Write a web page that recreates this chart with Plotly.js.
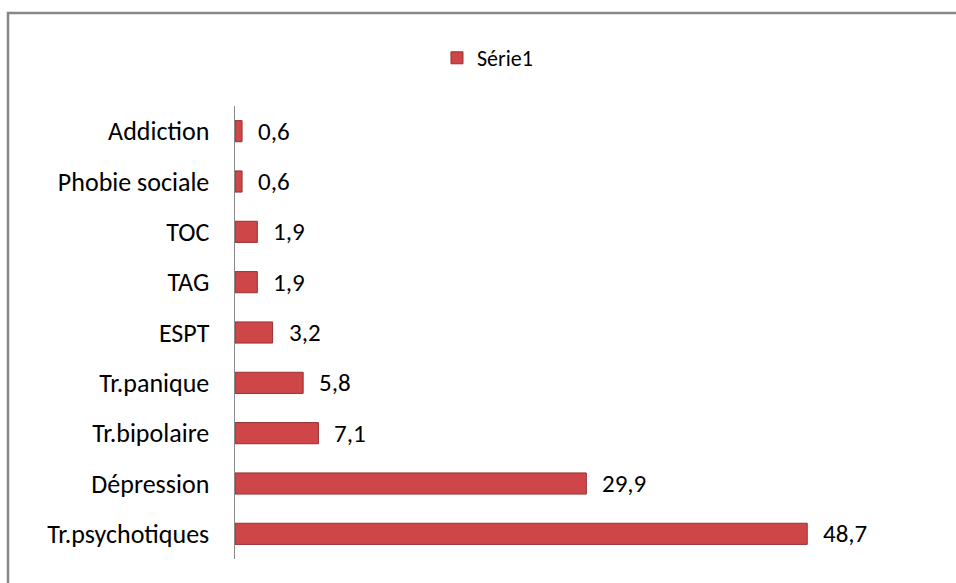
<!DOCTYPE html>
<html>
<head>
<meta charset="utf-8">
<script src="https://cdn.plot.ly/plotly-3.0.1.min.js"></script>
<style>
html,body{margin:0;padding:0;background:#fff;}
#chart{width:956px;height:583px;}
</style>
</head>
<body>
<div id="chart"></div>
<script>
const categories = ["Tr.psychotiques","Dépression","Tr.bipolaire","Tr.panique","ESPT","TAG","TOC","Phobie sociale","Addiction"];
const values = [48.7, 29.9, 7.1, 5.8, 3.2, 1.9, 1.9, 0.6, 0.6];
const seriesName = "Série1";

const FONT = "Carlito, Calibri, 'Liberation Sans', 'DejaVu Sans', sans-serif";

const trace = {
  type: "bar",
  orientation: "h",
  x: values,
  y: categories,
  name: seriesName,
  marker: {color: "#cf4648", line: {color: "#963032", width: 1}},
  hoverinfo: "x+y"
};

const annotations = values.map((v, i) => ({
  x: v, y: categories[i], xref: "x", yref: "y",
  text: v.toFixed(1).replace(".", ","),
  showarrow: false, xanchor: "left", yanchor: "middle", xshift: 14,
  font: {family: FONT, size: 25, color: "#000"}
}));

const layout = {
  width: 956, height: 583,
  margin: {l: 235, r: 16, t: 106, b: 24},
  paper_bgcolor: "#fff", plot_bgcolor: "#fff",
  font: {family: FONT, size: 25, color: "#000"},
  separators: ",.",
  bargap: 0.58,
  showlegend: true,
  legend: {x: 0.2865, xanchor: "left", y: 1.106, yanchor: "middle", orientation: "h",
           font: {family: FONT, size: 22, color: "#000"}, itemwidth: 30, bgcolor: "rgba(0,0,0,0)"},
  xaxis: {range: [0, 60], visible: false, showgrid: false, zeroline: false, fixedrange: true},
  yaxis: {type: "category", showgrid: false, zeroline: false, showline: true,
          linecolor: "#8a8a8a", linewidth: 1.5, ticks: "", ticklabelstandoff: 19,
          tickfont: {family: FONT, size: 26, color: "#000"}},
  annotations: annotations,
  shapes: [{type: "rect", xref: "paper", yref: "paper",
            x0: (8 - 235) / 705, x1: 1.2, y0: -0.3, y1: (559 - 13) / 453,
            line: {color: "#878787", width: 2.5}, fillcolor: "rgba(0,0,0,0)", layer: "below"}]
};

Plotly.newPlot("chart", [trace], layout, {displayModeBar: false, staticPlot: true});
</script>
</body>
</html>
